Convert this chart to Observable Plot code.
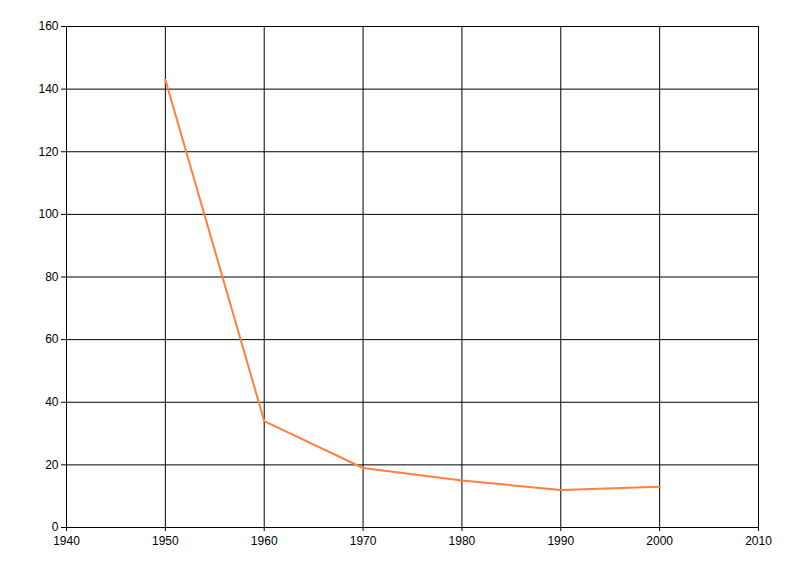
<!DOCTYPE html>
<html>
<head>
<meta charset="utf-8">
<script src="https://cdn.jsdelivr.net/npm/d3@7"></script>
<script src="https://cdn.jsdelivr.net/npm/@observablehq/plot@0.6"></script>
<style>
body { margin: 0; background: #fff; }
#chart svg { display: block; }
</style>
</head>
<body>
<div id="chart"></div>
<script>
const years = [1950, 1960, 1970, 1980, 1990, 2000];
const values = [143, 34, 19, 15, 12, 13];
const xTicks = [1940, 1950, 1960, 1970, 1980, 1990, 2000, 2010];
const yTicks = [0, 20, 40, 60, 80, 100, 120, 140, 160];

const data = years.map((y, i) => ({year: y, value: values[i]}));

const chart = Plot.plot({
  width: 800,
  height: 576,
  marginLeft: 66,
  marginRight: 42,
  marginTop: 26,
  marginBottom: 49,
  style: {fontFamily: "Liberation Sans, Arial, sans-serif", fontSize: "12px", color: "#000", background: "#fff"},
  x: {domain: [1940, 2010], ticks: xTicks, tickFormat: d => String(d), label: null},
  y: {domain: [0, 160], ticks: yTicks, label: null},
  marks: [
    Plot.gridX(xTicks, {stroke: "#000", strokeOpacity: 1, strokeWidth: 1}),
    Plot.gridY(yTicks, {stroke: "#000", strokeOpacity: 1, strokeWidth: 1}),
    Plot.axisX({ticks: xTicks, tickSize: 4, tickPadding: 5, tickFormat: d => String(d), label: null}),
    Plot.axisY({ticks: yTicks, tickSize: 5, tickPadding: 3, label: null}),
    Plot.line(data, {x: "year", y: "value", stroke: "#ff7f3f", strokeWidth: 2})
  ]
});
document.getElementById("chart").appendChild(chart);
</script>
</body>
</html>
